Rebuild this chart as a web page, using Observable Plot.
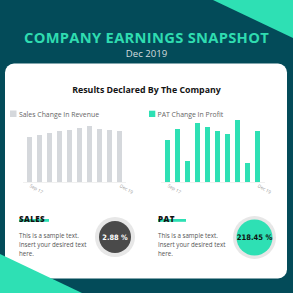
<!DOCTYPE html>
<html>
<head>
<meta charset="utf-8">
<script src="https://cdn.jsdelivr.net/npm/d3@7"></script>
<script src="https://cdn.jsdelivr.net/npm/@observablehq/plot@0.6"></script>
<style>
html, body { margin: 0; padding: 0; background: #034b59; }
#root { position: relative; width: 293px; height: 293px; overflow: hidden; font-family: "Open Sans", sans-serif; }
#deco { position: absolute; left: 0; top: 0; }
.chart { position: absolute; top: 110px; }
#chartL { left: 0px; }
#chartR { left: 140px; }
</style>
</head>
<body>
<div id="root">
  <svg id="deco" width="293" height="293" viewBox="0 0 293 293"></svg>
  <div id="chartL" class="chart"></div>
  <div id="chartR" class="chart"></div>
</div>
<script>
// ---- data ----
const quarters = ["Sep 17","Dec 17","Mar 18","Jun 18","Sep 18","Dec 18","Mar 19","Jun 19","Sep 19","Dec 19"];
const salesChange = [45, 47, 49, 51, 52, 54, 56, 53, 52, 51];
const patChange = [42, 53, 21, 59, 55, 51, 48, 62, 19, 51];
const tickLabels = ["Sep 17", "Dec 19"];
const titleText = "COMPANY EARNINGS SNAPSHOT";
const subtitleText = "Dec 2019";
const chartTitle = "Results Declared By The Company";
const legendLabels = ["Sales Change In Revenue", "PAT Change In Profit"];
const kpiNames = ["SALES", "PAT"];
const kpiValues = ["2.88 %", "218.45 %"];
const bodyLines = ["This is a sample text.", "Insert your desired text", "here."];

const MINT = "#2ee0b4";
const DARK = "#034b59";
const GREY_BAR = "#d5d8dc";

// ---- decoration (background, card, texts, KPI circles) ----
const NS = "http://www.w3.org/2000/svg";
const deco = document.getElementById("deco");
function el(tag, attrs, text) {
  const e = document.createElementNS(NS, tag);
  for (const k in attrs) e.setAttribute(k, attrs[k]);
  if (text != null) e.textContent = text;
  deco.appendChild(e);
  return e;
}
el("rect", {x: 0, y: 0, width: 293, height: 293, fill: DARK});
el("polygon", {points: "213,0 293,0 293,38", fill: MINT});
el("text", {x: 146.5, y: 42.8, "text-anchor": "middle", "font-size": 14.7, "font-weight": 700, fill: "#2fdcb0", "letter-spacing": 0.3, "font-family": "Open Sans"}, titleText);
el("text", {x: 146.5, y: 57.2, "text-anchor": "middle", "font-size": 9.6, fill: "#d3dcde", "font-family": "Open Sans"}, subtitleText);
el("rect", {x: 5, y: 63.5, width: 282, height: 215, rx: 9, fill: "#ffffff"});
el("text", {x: 146.5, y: 93.3, "text-anchor": "middle", "font-size": 8.8, "font-weight": 700, fill: "#151515", "font-family": "Open Sans"}, chartTitle);
el("rect", {x: 10, y: 110.5, width: 6.5, height: 6.5, fill: GREY_BAR});
el("text", {x: 19, y: 116.6, "font-size": 6.9, fill: "#666", "font-family": "Open Sans"}, legendLabels[0]);
el("rect", {x: 149, y: 110.7, width: 6.3, height: 6.3, fill: MINT});
el("text", {x: 157.5, y: 116.6, "font-size": 6.9, fill: "#666", "font-family": "Open Sans"}, legendLabels[1]);

const kpiX = [19, 158];
const ulW = [30, 28];
kpiNames.forEach((n, i) => {
  el("rect", {x: kpiX[i], y: 219, width: ulW[i], height: 2.8, fill: MINT});
  el("text", {x: kpiX[i], y: 221.7, "font-size": 8.0, "font-weight": 800, fill: "#111", "letter-spacing": 0.4, "font-family": "Open Sans"}, n);
  bodyLines.forEach((t, j) => {
    el("text", {x: kpiX[i], y: 238.3 + j * 8.8, "font-size": 6.2, fill: "#555", "font-family": "Open Sans"}, t);
  });
});
// KPI circles
const circ = [
  {cx: 115, cy: 237, ro: 20, ri: 16, fill: "#4a4a4a", text: "#ffffff", fs: 7.4},
  {cx: 254.5, cy: 237.5, ro: 21.5, ri: 18, fill: MINT, text: "#111111", fs: 7.6}
];
circ.forEach((c, i) => {
  el("circle", {cx: c.cx, cy: c.cy, r: c.ro, fill: "#e7e7e7"});
  el("circle", {cx: c.cx, cy: c.cy, r: c.ri, fill: c.fill});
  el("text", {x: c.cx, y: c.cy + 2.7, "text-anchor": "middle", "font-size": c.fs, "font-weight": 700, fill: c.text,
    "font-family": "Liberation Sans Narrow, DejaVu Sans Condensed, Roboto, sans-serif", "font-stretch": "condensed"}, kpiValues[i]);
});
// bottom-left triangle over the card
el("polygon", {points: "0,254 0,293 82,293", fill: MINT});

// ---- bar charts ----
function barChart(values, color, ml, mr) {
  const rows = quarters.map((q, i) => ({q, v: values[i]}));
  return Plot.plot({
    width: 140,
    height: 90,
    marginLeft: ml,
    marginRight: mr,
    marginTop: 2,
    marginBottom: 18,
    style: {background: "transparent", fontFamily: "Open Sans"},
    x: {domain: quarters, paddingInner: 0.48, paddingOuter: 0, axis: null, label: null},
    y: {domain: [0, 70], axis: null, label: null},
    marks: [
      Plot.ruleY([0], {stroke: "#f0f0f0", strokeWidth: 1}),
      Plot.barY(rows, {x: "q", y: "v", fill: color}),
      Plot.axisX({ticks: tickLabels, tickSize: 0, tickPadding: 3, tickRotate: 30, fontSize: 4.6, fill: "#9a9a9a", label: null})
    ]
  });
}
document.getElementById("chartL").appendChild(barChart(salesChange, GREY_BAR, 23, 14));
document.getElementById("chartR").appendChild(barChart(patChange, MINT, 21, 15));
</script>
</body>
</html>
